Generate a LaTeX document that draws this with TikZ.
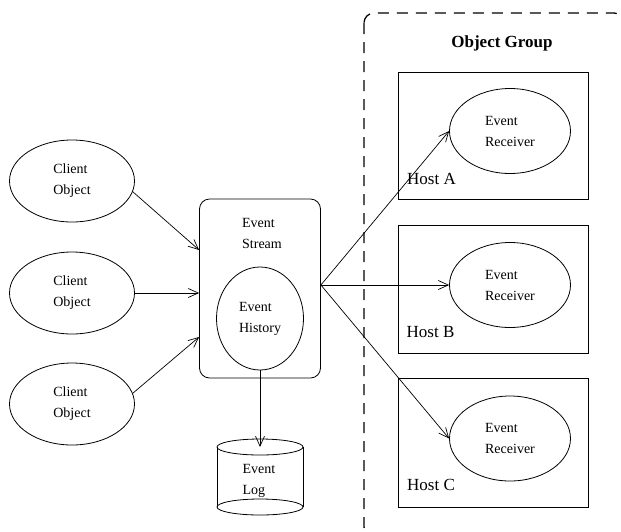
\documentclass[tikz,border=0pt]{standalone}
\usepackage{fontspec}
\setmainfont{Liberation Serif}
\usetikzlibrary{shapes.geometric,arrows.meta,calc}
\begin{document}
\begin{tikzpicture}[x=1pt,y=-1pt,
  small/.style={font=\fontsize{14}{21}\selectfont},
  large/.style={font=\fontsize{17}{20}\selectfont},
  obj/.style={draw, ellipse, line width=0.8pt, inner sep=0pt, align=left, small},
  box/.style={draw, rectangle, line width=0.8pt, inner sep=0pt},
  txt/.style={inner sep=0pt, align=left, small},
  arr/.style={line width=0.7pt, -{Straight Barb[length=10pt,width=9pt,line width=0.7pt]}},
  group/.style={line width=1.3pt, dash pattern=on 11pt off 8pt, rounded corners=10pt}
]
\useasboundingbox (0,0) rectangle (621,531);

% dashed object group frame, running past the lower and right edges
\begin{scope}
  \clip (0,0) rectangle (621,531);
  \draw[group] (364,13) rectangle (624,537);
\end{scope}
\node[large, font=\fontsize{17}{20}\selectfont\bfseries] (grouptitle) at (502,43) {Object Group};

% client objects
\node[obj, minimum width=125pt, minimum height=82pt] (c1) at (72,181) {Client\\Object};
\node[obj, minimum width=125pt, minimum height=82pt] (c2) at (72,293) {Client\\Object};
\node[obj, minimum width=125pt, minimum height=82pt] (c3) at (72,404) {Client\\Object};

% event stream with its history
\node[box, rounded corners=10pt, minimum width=121pt, minimum height=179pt] (stream) at (260,288.5) {};
\node[txt] (streamlabel) at (262,233) {Event\\Stream};
\node[obj, minimum width=87pt, minimum height=103pt] (hist) at (260,318.5) {Event\\History};

% event log cylinder
\coordinate (logtop) at (260,447);
\coordinate (logbot) at (260,507);
\draw[line width=0.8pt] (logtop) ellipse [x radius=43pt, y radius=8pt];
\draw[line width=0.8pt] (logbot) ellipse [x radius=43pt, y radius=8pt];
\draw[line width=0.8pt] ($(logtop)+(-43,0)$) -- ($(logbot)+(-43,0)$)
                         ($(logtop)+(43,0)$) -- ($(logbot)+(43,0)$);
\node[txt] (log) at (259,481) {Event\\Log};

% hosts
\node[box, minimum width=190pt, minimum height=127pt] (hostA) at (493,135.5) {};
\node[box, minimum width=190pt, minimum height=128pt] (hostB) at (493,289) {};
\node[box, minimum width=190pt, minimum height=129pt] (hostC) at (493,442.5) {};
\node[large, inner sep=0pt] (labA) at (431.5,179) {Host A};
\node[large, inner sep=0pt] (labB) at (430.5,332) {Host B};
\node[large, inner sep=0pt] (labC) at (431,485) {Host C};

\node[obj, minimum width=121pt, minimum height=85pt] (rA) at (510,131) {Event\\Receiver};
\node[obj, minimum width=121pt, minimum height=85pt] (rB) at (510,285) {Event\\Receiver};
\node[obj, minimum width=121pt, minimum height=85pt] (rC) at (510,438.5) {Event\\Receiver};

% connectors
\draw[arr] (c1.-10) -- ([yshift=38.5pt]stream.west);
\draw[arr] (c2) -- (c2 -| stream.west);
\draw[arr] (c3.10) -- ([yshift=-48.5pt]stream.west);

\coordinate (fan) at ([yshift=3.5pt]stream.east);
\draw[arr] (fan) -- (rA.west);
\draw[arr] (fan) -- (rB.west);
\draw[arr] (fan) -- (rC.west);

\draw[arr] (hist.south) -- (logtop);
\end{tikzpicture}
\end{document}
